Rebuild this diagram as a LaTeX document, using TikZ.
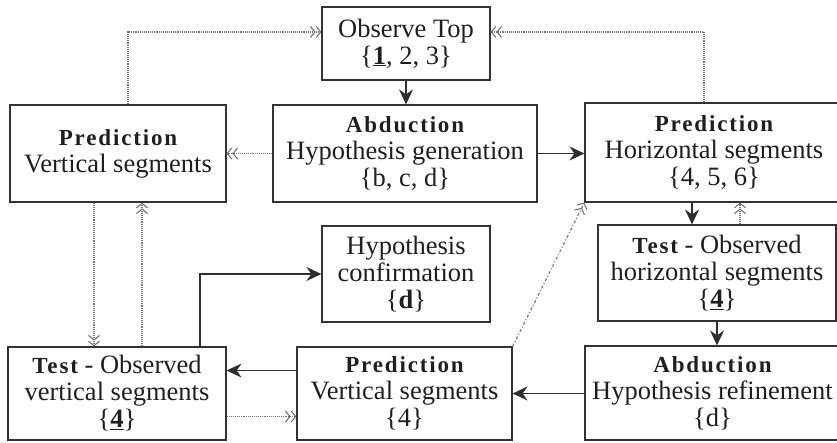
\documentclass[tikz,border=0pt]{standalone}
\usepackage{fontspec}
\usepackage{tikz}
\usetikzlibrary{arrows.meta}
\setmainfont{Liberation Serif}
\newfontfamily\headfont[LetterSpace=8]{Liberation Serif}
\newcommand{\boldhd}[1]{{\headfont\bfseries\fontsize{23}{27}\selectfont #1}}
\newcommand{\ulnum}[1]{\underline{\textbf{#1}}}

\begin{document}
\begin{tikzpicture}[x=1pt,y=-1pt,
			box/.style={draw=black!80,line width=1.2pt,align=center,text=black!88,inner sep=0pt,font=\fontsize{26.5}{27}\selectfont},
			flow/.style={draw=black!82,line width=1.2pt,-{Stealth[length=15pt,width=14pt,inset=5pt]}},
			back/.style={draw=black!55,line width=1.1pt,densely dotted,-{Straight Barb[length=4.5pt,width=11pt]Straight Barb[length=4.5pt,width=11pt]}}]
			\clip (0,0) rectangle (837,442);
			
			\node[box,minimum width=168pt,minimum height=73pt] (top) at (406,43.5) {Observe Top\\\{\ulnum{1}, 2, 3\}};
			\node[box,minimum width=216pt,minimum height=97pt] (predV) at (118,153.5) {\boldhd{Prediction}\\Vertical segments};
			\node[box,minimum width=264pt,minimum height=97pt] (abdG) at (405,153.5) {\boldhd{Abduction}\\Hypothesis generation\\\{b, c, d\}};
			\node[box,minimum width=258pt,minimum height=99pt] (predH) at (714,152.5) {\boldhd{Prediction}\\Horizontal segments\\\{4, 5, 6\}};
			\node[box,minimum width=238pt,minimum height=96pt] (testH) at (717,273) {\boldhd{Test} - Observed\\horizontal segments\\\{\ulnum{4}\}};
			\node[box,minimum width=168pt,minimum height=96pt] (conf) at (406,274) {Hypothesis\\confirmation\\\{\textbf{d}\}};
			\node[box,minimum width=218pt,minimum height=93pt] (testV) at (117,393.5) {\boldhd{Test} - Observed\\vertical segments\\\{\ulnum{4}\}};
			\node[box,minimum width=215pt,minimum height=93pt] (predV4) at (404.5,393.5) {\boldhd{Prediction}\\Vertical segments\\\{4\}};
			\node[box,minimum width=255pt,minimum height=94pt] (abdR) at (712.5,393) {\boldhd{Abduction}\\Hypothesis refinement\\\{d\}};
			
			\draw[flow] (top.south) -- (top.south |- abdG.north);
			\draw[flow] (abdG.east) -- (abdG.east -| predH.west);
			\draw[back] (abdG.west) -- (abdG.west -| predV.east);
			\draw[back] ([xshift=10pt]predV.north) |- ([yshift=11.5pt]top.west);
			\draw[back] ([xshift=-10pt]predH.north) |- ([yshift=11.5pt]top.east);
			
			\draw[flow] ([xshift=-25pt]testH.north |- predH.south) -- ([xshift=-25pt]testH.north);
			\draw[back] ([xshift=23pt]testH.north) -- ([xshift=23pt]testH.north |- predH.south);
			\draw[flow] (testH.south) -- (testH.south |- abdR.north);
			\draw[flow] (abdR.west |- predV4.east) -- (predV4.east);
			
			\draw[flow] ([yshift=23pt]predV4.west) -- ([yshift=23pt]predV4.west -| testV.east);
			\draw[back] ([yshift=-23pt]testV.east) -- ([yshift=-23pt]testV.east -| predV4.west);
			\draw[back,dashdotted] (predV4.north east) -- (predH.south west);
			\draw[flow] ([xshift=83pt]testV.north) |- (conf.west);
			\draw[back] ([xshift=-24pt]predV.south) -- ([xshift=-24pt]predV.south |- testV.north);
			\draw[back] ([xshift=25pt]testV.north) -- ([xshift=25pt]testV.north |- predV.south);
			
\end{tikzpicture}
\end{document}
